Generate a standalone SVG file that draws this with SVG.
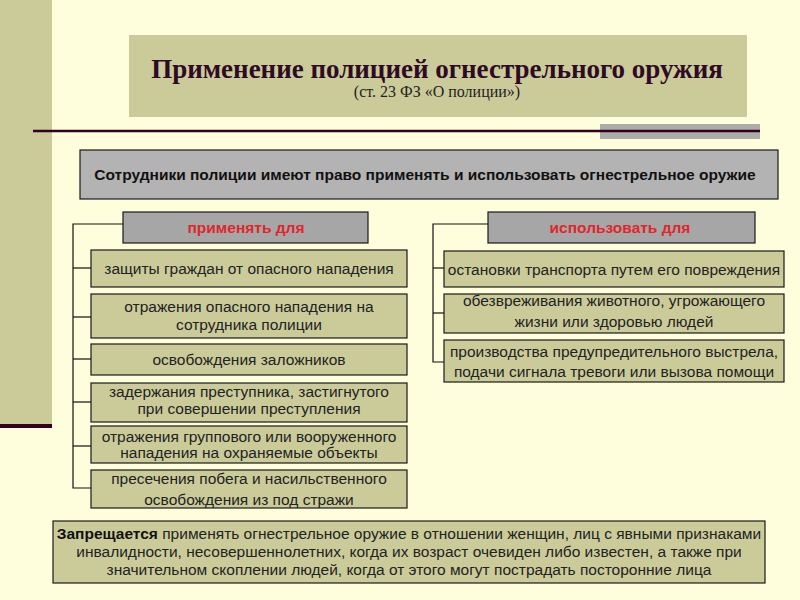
<svg xmlns="http://www.w3.org/2000/svg" width="800" height="600" viewBox="0 0 800 600">
<style>
.bg{fill:#FEFEDC}
.olive{fill:#CBCB9A}
.box{fill:#CBCB9A;stroke:#1a1a1a;stroke-width:1.2}
.gbox{fill:#B3B3B3;stroke:#1a1a1a;stroke-width:1.2}
.hbox{fill:#A6A6A6;stroke:#1a1a1a;stroke-width:1.2}
.t{font-family:"Liberation Sans",Arial,sans-serif;font-size:15.5px;fill:#222;text-anchor:middle}
.tb{font-family:"Liberation Sans",Arial,sans-serif;font-size:15.5px;font-weight:bold;fill:#111;text-anchor:middle}
.tr{font-family:"Liberation Sans",Arial,sans-serif;font-size:15.5px;font-weight:bold;fill:#E0262B;text-anchor:middle}
.title{font-family:"Liberation Serif","Times New Roman",serif;font-weight:bold;font-size:27px;fill:#2E0A24;text-anchor:middle}
.sub{font-family:"Liberation Serif","Times New Roman",serif;font-size:16px;fill:#222;text-anchor:middle}
.ln{stroke:#111;stroke-width:1.2;fill:none}
</style>
<rect class="bg" x="0" y="0" width="800" height="600"/>
<rect class="olive" x="0" y="0" width="52" height="424"/>
<rect x="0" y="424" width="52" height="4" fill="#330022"/>
<g id="title">
<rect class="olive" x="129" y="35" width="618" height="82"/>
<text class="title" x="437" y="78">Применение полицией огнестрельного оружия</text>
<text class="sub" x="437" y="97">(ст. 23 ФЗ «О полиции»)</text>
</g>
<rect x="600" y="124" width="160" height="15" fill="#ACACA8"/>
<line x1="33" y1="131" x2="760" y2="131" stroke="#330022" stroke-width="2.5"/>
<g id="connectors">
<polyline class="ln" points="123,224 73,224 73,488 91,488"/>
<line class="ln" x1="73" y1="268" x2="91" y2="268"/>
<line class="ln" x1="73" y1="317" x2="91" y2="317"/>
<line class="ln" x1="73" y1="359" x2="91" y2="359"/>
<line class="ln" x1="73" y1="402" x2="91" y2="402"/>
<line class="ln" x1="73" y1="446" x2="91" y2="446"/>
<polyline class="ln" points="488,224 433,224 433,362 444,362"/>
<line class="ln" x1="433" y1="268" x2="444" y2="268"/>
<line class="ln" x1="433" y1="313" x2="444" y2="313"/>
</g>
<g id="header">
<rect class="gbox" x="80" y="150" width="698" height="49"/>
<text class="tb" x="425" y="180">Сотрудники полиции имеют право применять и использовать огнестрельное оружие</text>
</g>
<g id="apply">
<rect class="hbox" x="123" y="212" width="245" height="31"/>
<text class="tr" x="246" y="233">применять для</text>
</g>
<g id="use">
<rect class="hbox" x="488" y="212" width="267" height="31"/>
<text class="tr" x="620" y="233">использовать для</text>
</g>
<g id="l1">
<rect class="box" x="91" y="250" width="316" height="37"/>
<text class="t" x="249" y="274">защиты граждан от опасного нападения</text>
</g>
<g id="l2">
<rect class="box" x="91" y="294" width="316" height="44"/>
<text class="t" x="249" y="312">отражения опасного нападения на</text>
<text class="t" x="249" y="330">сотрудника полиции</text>
</g>
<g id="l3">
<rect class="box" x="91" y="344" width="316" height="31"/>
<text class="t" x="249" y="365">освобождения заложников</text>
</g>
<g id="l4">
<rect class="box" x="91" y="383" width="316" height="39"/>
<text class="t" x="249" y="397">задержания преступника,  застигнутого</text>
<text class="t" x="249" y="414">при совершении  преступления</text>
</g>
<g id="l5">
<rect class="box" x="91" y="426" width="316" height="37"/>
<text class="t" x="249" y="442">отражения группового или  вооруженного</text>
<text class="t" x="249" y="458">нападения на  охраняемые объекты</text>
</g>
<g id="l6">
<rect class="box" x="91" y="470" width="316" height="38"/>
<text class="t" x="249" y="484">пресечения побега и насильственного</text>
<text class="t" x="249" y="505">освобождения из под стражи</text>
</g>
<g id="r1">
<rect class="box" x="444" y="251" width="340" height="36"/>
<text class="t" x="614" y="275">остановки транспорта путем его повреждения</text>
</g>
<g id="r2">
<rect class="box" x="444" y="294" width="340" height="39"/>
<text class="t" x="614" y="306">обезвреживания животного, угрожающего</text>
<text class="t" x="614" y="327">жизни  или  здоровью людей</text>
</g>
<g id="r3">
<rect class="box" x="444" y="340" width="340" height="42"/>
<text class="t" x="614" y="357">производства предупредительного выстрела,</text>
<text class="t" x="614" y="377">подачи сигнала  тревоги или  вызова помощи</text>
</g>
<g id="ban">
<rect class="box" x="53" y="521" width="712" height="62"/>
<text class="t" x="409" y="539"><tspan font-weight="bold" fill="#111">Запрещается</tspan> применять огнестрельное оружие в отношении  женщин,  лиц  с явными признаками</text>
<text class="t" x="409" y="557">инвалидности,  несовершеннолетних,  когда их возраст очевиден либо  известен, а также при</text>
<text class="t" x="409" y="575">значительном  скоплении  людей,  когда от этого могут пострадать посторонние лица</text>
</g>
</svg>
